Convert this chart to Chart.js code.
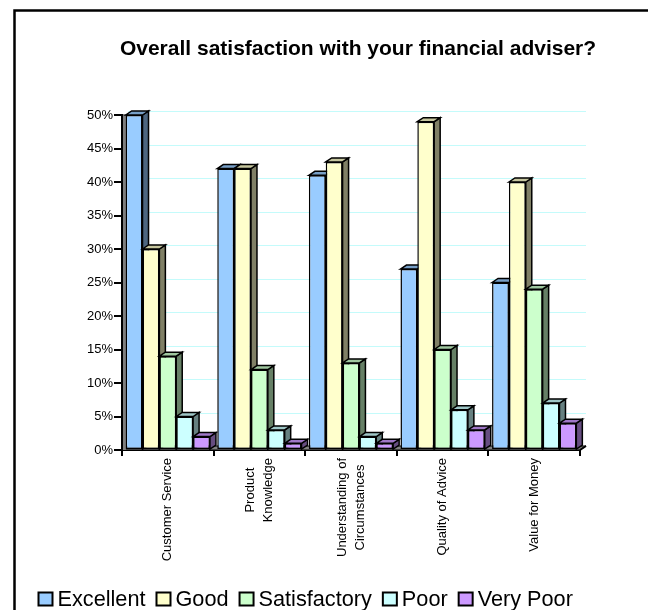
<!DOCTYPE html>
<html>
<head>
<meta charset="utf-8">
<script src="https://cdn.jsdelivr.net/npm/chart.js@4.4.1/dist/chart.umd.min.js"></script>
<style>
  html, body { margin: 0; padding: 0; background: #fff; }
  #wrap { position: relative; width: 648px; height: 610px; }
</style>
</head>
<body>
<div id="wrap"><canvas id="c" width="648" height="610"></canvas></div>
<script>
// ---- data ----
const chartTitle = 'Overall satisfaction with your financial adviser?';
const categories = [
  ['Customer Service'],
  ['Product', 'Knowledge'],
  ['Understanding of', 'Circumstances'],
  ['Quality of Advice'],
  ['Value for Money']
];
const seriesNames = ['Excellent', 'Good', 'Satisfactory', 'Poor', 'Very Poor'];
const excellent    = [50, 42, 41, 27, 25];
const good         = [30, 42, 43, 49, 40];
const satisfactory = [14, 12, 13, 15, 24];
const poor         = [5, 3, 2, 6, 7];
const veryPoor     = [2, 1, 1, 3, 4];
const yTickStep = 5;
const yMax = 50;

// ---- style ----
const seriesColors = ['#99CCFF', '#FFFFCC', '#CCFFCC', '#CCFFFF', '#CC99FF'];
const FONT = '"Liberation Sans", Arial, sans-serif';
const DX = 6, DY = 4;           // depth offset of the 3D columns

function shade(hex, f) {
  const n = parseInt(hex.slice(1), 16);
  const r = Math.round(((n >> 16) & 255) * f);
  const g = Math.round(((n >> 8) & 255) * f);
  const b = Math.round((n & 255) * f);
  return `rgb(${r},${g},${b})`;
}

function poly(ctx, pts, fill) {
  ctx.beginPath();
  ctx.moveTo(pts[0][0], pts[0][1]);
  for (let i = 1; i < pts.length; i++) ctx.lineTo(pts[i][0], pts[i][1]);
  ctx.closePath();
  ctx.fillStyle = fill;
  ctx.fill();
  ctx.stroke();
}

const seriesValues = [excellent, good, satisfactory, poor, veryPoor];

const chartDecor = {
  id: 'chartDecor',
  beforeDraw(chart) {
    const ctx = chart.ctx;
    ctx.save();
    ctx.fillStyle = '#fff';
    ctx.fillRect(0, 0, chart.width, chart.height);
    // outer frame (runs off the right and bottom edges)
    ctx.strokeStyle = '#000';
    ctx.lineWidth = 2.5;
    ctx.strokeRect(14.5, 10.5, 800, 800);
    // title
    ctx.fillStyle = '#000';
    ctx.font = 'bold 21px ' + FONT;
    ctx.textAlign = 'center';
    ctx.textBaseline = 'alphabetic';
    ctx.fillText(chartTitle, 358, 55);
    ctx.restore();
  },
  beforeDatasetsDraw(chart) {
    const ctx = chart.ctx;
    const a = chart.chartArea;
    const y = chart.scales.y;
    ctx.save();
    // back wall grid lines
    ctx.strokeStyle = '#c4fbfb';
    ctx.lineWidth = 1;
    y.ticks.forEach(t => {
      if (t.value <= 0) return;
      const py = Math.round(y.getPixelForValue(t.value)) - DY + 0.5;
      ctx.beginPath();
      ctx.moveTo(a.left + DX, py);
      ctx.lineTo(a.right + DX, py);
      ctx.stroke();
    });
    // floor
    ctx.strokeStyle = '#000';
    ctx.lineWidth = 1;
    poly(ctx, [[a.left, a.bottom], [a.left + DX, a.bottom - DY],
               [a.right + DX, a.bottom - DY], [a.right, a.bottom]], '#808080');
    // left wall edge
    ctx.fillStyle = '#7f7f7f';
    ctx.fillRect(a.left + 1, a.top - 1, 3, a.bottom - a.top + 1);

    // columns: side + top faces, then the front drawn by the bar element
    ctx.lineWidth = 1.5;
    ctx.lineJoin = 'miter';
    const metas = chart.data.datasets.map((d, i) => chart.getDatasetMeta(i));
    for (let i = 0; i < chart.data.labels.length; i++) {
      metas.forEach((meta, j) => {
        const bar = meta.data[i];
        if (!bar) return;
        const p = bar.getProps(['x', 'y', 'base', 'width'], true);
        const l = p.x - p.width / 2, r = p.x + p.width / 2;
        const top = p.y, base = p.base;
        ctx.strokeStyle = '#000';
        poly(ctx, [[r, top], [r + DX, top - DY], [r + DX, base - DY], [r, base]],
             shade(seriesColors[j], 0.5));
        poly(ctx, [[l, top], [l + DX, top - DY], [r + DX, top - DY], [r, top]],
             shade(seriesColors[j], 0.78));
        bar.draw(ctx, a);
      });
    }
    // right end of floor
    ctx.lineWidth = 2;
    ctx.beginPath();
    ctx.moveTo(a.right, a.bottom);
    ctx.lineTo(a.right + DX, a.bottom - DY);
    ctx.stroke();
    ctx.restore();
    return false;
  },
  afterDraw(chart) {
    const ctx = chart.ctx;
    const a = chart.chartArea;
    const x = chart.scales.x;
    ctx.save();
    // rotated category labels, lines centred on each other
    ctx.fillStyle = '#000';
    ctx.font = '13px ' + FONT;
    ctx.textAlign = 'center';
    ctx.textBaseline = 'middle';
    chart.data.labels.forEach((lines, i) => {
      const cx = x.getPixelForValue(i);
      const maxW = Math.max(...lines.map(t => ctx.measureText(t).width));
      ctx.save();
      ctx.translate(cx, a.bottom + 8);
      ctx.rotate(-Math.PI / 2);
      lines.forEach((t, k) => {
        ctx.fillText(t, -maxW / 2, (k - (lines.length - 1) / 2) * 18);
      });
      ctx.restore();
    });
    // legend
    ctx.font = '21.7px ' + FONT;
    ctx.textAlign = 'left';
    ctx.textBaseline = 'alphabetic';
    let lx = 38.5;
    const ly = 592.5;
    chart.data.datasets.forEach((d, i) => {
      ctx.fillStyle = seriesColors[i];
      ctx.fillRect(lx, ly, 14, 13);
      ctx.strokeStyle = '#000';
      ctx.lineWidth = 2;
      ctx.strokeRect(lx, ly, 14, 13);
      ctx.fillStyle = '#000';
      ctx.fillText(d.label, lx + 19, 606);
      lx += 19 + ctx.measureText(d.label).width + 11;
    });
    ctx.restore();
  }
};

new Chart(document.getElementById('c'), {
  type: 'bar',
  data: {
    labels: categories,
    datasets: seriesNames.map((name, i) => ({
      label: name,
      data: seriesValues[i],
      backgroundColor: seriesColors[i],
      borderColor: '#000',
      borderWidth: 1.5,
      borderSkipped: false,
      categoryPercentage: 0.92,
      barPercentage: 1
    }))
  },
  options: {
    responsive: false,
    animation: false,
    devicePixelRatio: 1,
    layout: { padding: { top: 115, right: 68, left: 0, bottom: 0 } },
    plugins: {
      legend: { display: false },
      title: { display: false },
      tooltip: { enabled: false }
    },
    scales: {
      x: {
        offset: true,
        grid: { offset: true, drawOnChartArea: false, drawTicks: true, tickLength: 6, color: '#000', lineWidth: 2 },
        border: { display: true, color: '#000', width: 2 },
        ticks: { display: false },
        afterFit: s => { s.height = 160; }
      },
      y: {
        min: 0,
        max: yMax,
        ticks: {
          stepSize: yTickStep,
          callback: v => v + '%',
          font: { family: FONT, size: 13 },
          color: '#000',
          padding: 1
        },
        grid: { drawOnChartArea: false, tickLength: 8, color: '#000', lineWidth: 2 },
        border: { display: true, color: '#000', width: 2 },
        afterFit: s => { s.width = 122; }
      }
    }
  },
  plugins: [chartDecor]
});
</script>
</body>
</html>
